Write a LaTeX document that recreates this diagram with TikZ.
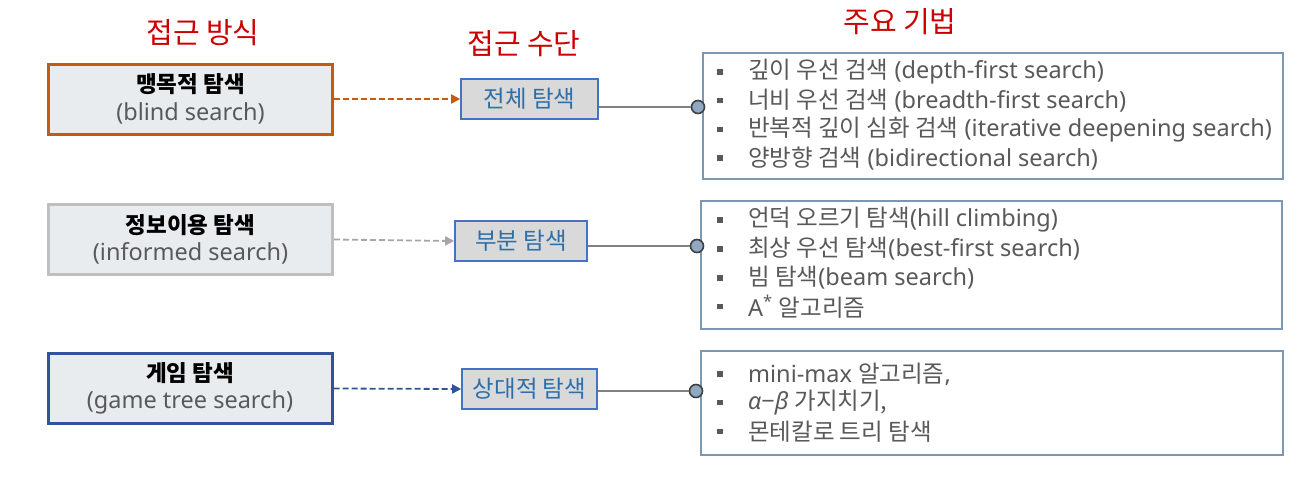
\documentclass[tikz,border=0pt]{standalone}
\usepackage{fontspec}
\setmainfont{Noto Sans}
\newfontfamily\krfont{Noto Sans CJK KR}
\usetikzlibrary{arrows.meta,positioning}
\newcommand{\kr}[1]{{\krfont #1}}
\newcommand{\krbold}[1]{{\krfont\fontsize{22.5}{27}\selectfont\bfseries #1}}
\definecolor{hdred}{HTML}{CC0000}
\definecolor{txtgray}{HTML}{595959}
\definecolor{boxfill}{HTML}{E9ECEF}
\definecolor{midfill}{HTML}{D9D9D9}
\definecolor{midblue}{HTML}{4472C4}
\definecolor{midtext}{HTML}{2E6FA8}
\definecolor{orng}{HTML}{C55A11}
\definecolor{lgray}{HTML}{BFBFBF}
\definecolor{dblue}{HTML}{2F5597}
\definecolor{steel}{HTML}{7A98B4}
\definecolor{dotfill}{HTML}{8EA9C1}
\tikzset{
  hdr/.style={text=hdred, font=\fontsize{29}{32}\selectfont\krfont, inner sep=0pt},
  srcbox/.style={draw, line width=3pt, fill=boxfill, minimum width=284pt, minimum height=70pt, align=center, inner sep=0pt, font=\fontsize{23.5}{27.5}\selectfont},
  midbox/.style={draw=midblue, line width=1.6pt, fill=midfill, minimum height=40pt, inner sep=0pt, text=midtext, font=\fontsize{23.5}{26}\selectfont\krfont},
  listbox/.style={draw=steel, line width=2.6pt, fill=white, inner sep=0pt},
  itemtxt/.style={anchor=west, inner sep=0pt, text=txtgray, font=\fontsize{23.5}{26}\selectfont},
  bul/.style={fill=txtgray, minimum size=5.5pt, inner sep=0pt},
  dot/.style={circle, draw=black!75, line width=1.6pt, fill=dotfill, minimum size=13pt, inner sep=0pt},
  dasharrow/.style={dash pattern=on 6pt off 3pt, line width=1.8pt, -{Triangle[length=9pt,width=9pt]}},
  link/.style={draw=black!50, line width=1.8pt}
}
\begin{document}
\begin{tikzpicture}[x=1pt,y=1pt]
\useasboundingbox (0,0) rectangle (1295,-490);

% headings
\node[hdr] (h1) at (203,-33) {접근 방식};
\node[hdr] (h2) at (524,-44) {접근 수단};
\node[hdr] (h3) at (900,-22) {주요 기법};

% approach boxes
\node[srcbox, draw=orng] (s1) at (190.5,-99) {\krbold{맹목적 탐색}\\\textcolor{txtgray}{(blind search)}};
\node[srcbox, draw=lgray] (s2) at (190.5,-239.5) {\krbold{정보이용 탐색}\\\textcolor{txtgray}{(informed search)}};
\node[srcbox, draw=dblue] (s3) at (190,-388.5) {\krbold{게임 탐색}\\\textcolor{txtgray}{(game tree search)}};

% means
\node[midbox, minimum width=137pt] (m1) at (529.5,-99) {전체 탐색};
\node[midbox, minimum width=132pt] (m2) at (521,-241) {부분 탐색};
\node[midbox, minimum width=135pt] (m3) at (529.5,-389) {상대적 탐색};

\draw[dasharrow, orng] (s1) -- (m1);
\draw[dasharrow, black!35] (s2.east) -- (m2.west);
\draw[dasharrow, dblue] (s3.east) -- (m3.west);

% technique lists
\node[listbox, minimum width=580pt, minimum height=126pt] (r1) at (993,-116) {};
\node[listbox, minimum width=581pt, minimum height=128pt] (r2) at (991.5,-265) {};
\node[listbox, minimum width=582pt, minimum height=104pt] (r3) at (992,-403) {};

\foreach \t [count=\i] in {{\kr{깊이 우선 검색} (depth-first search)},
    {\kr{너비 우선 검색} (breadth-first search)},
    {\kr{반복적 깊이 심화 검색} (iterative deepening search)},
    {\kr{양방향 검색} (bidirectional search)}} {
  \node[bul] (b1\i) at (720,{-72-28.7*(\i-1)}) {};
  \node[itemtxt] (t1\i) at (748,{-72-28.7*(\i-1)}) {\t};
}
\foreach \t [count=\i] in {{\kr{언덕 오르기 탐색}(hill climbing)},
    {\kr{최상 우선 탐색}(best-first search)},
    {\kr{빔 탐색}(beam search)},
    {A\textsuperscript{*} \kr{알고리즘}}} {
  \node[bul] (b2\i) at (720,{-220-28.9*(\i-1)}) {};
  \node[itemtxt] (t2\i) at (748,{-220-28.9*(\i-1)}) {\t};
}
\foreach \t [count=\i] in {{mini-max \kr{알고리즘},},
    {{\itshape α}−{\itshape β} \kr{가지치기,}},
    {\kr{몬테칼로 트리 탐색}}} {
  \node[bul] (b3\i) at (720,{-374-28.7*(\i-1)}) {};
  \node[itemtxt] (t3\i) at (748,{-374-28.7*(\i-1)}) {\t};
}

% connectors
\node[dot] (d1) at (698,-107) {};
\node[dot] (d2) at (697,-246) {};
\node[dot] (d3) at (696,-391) {};
\draw[link] (m1.east |- d1) -- (d1);
\draw[link] (m2.east |- d2) -- (d2);
\draw[link] (m3.east |- d3) -- (d3);
\end{tikzpicture}
\end{document}
